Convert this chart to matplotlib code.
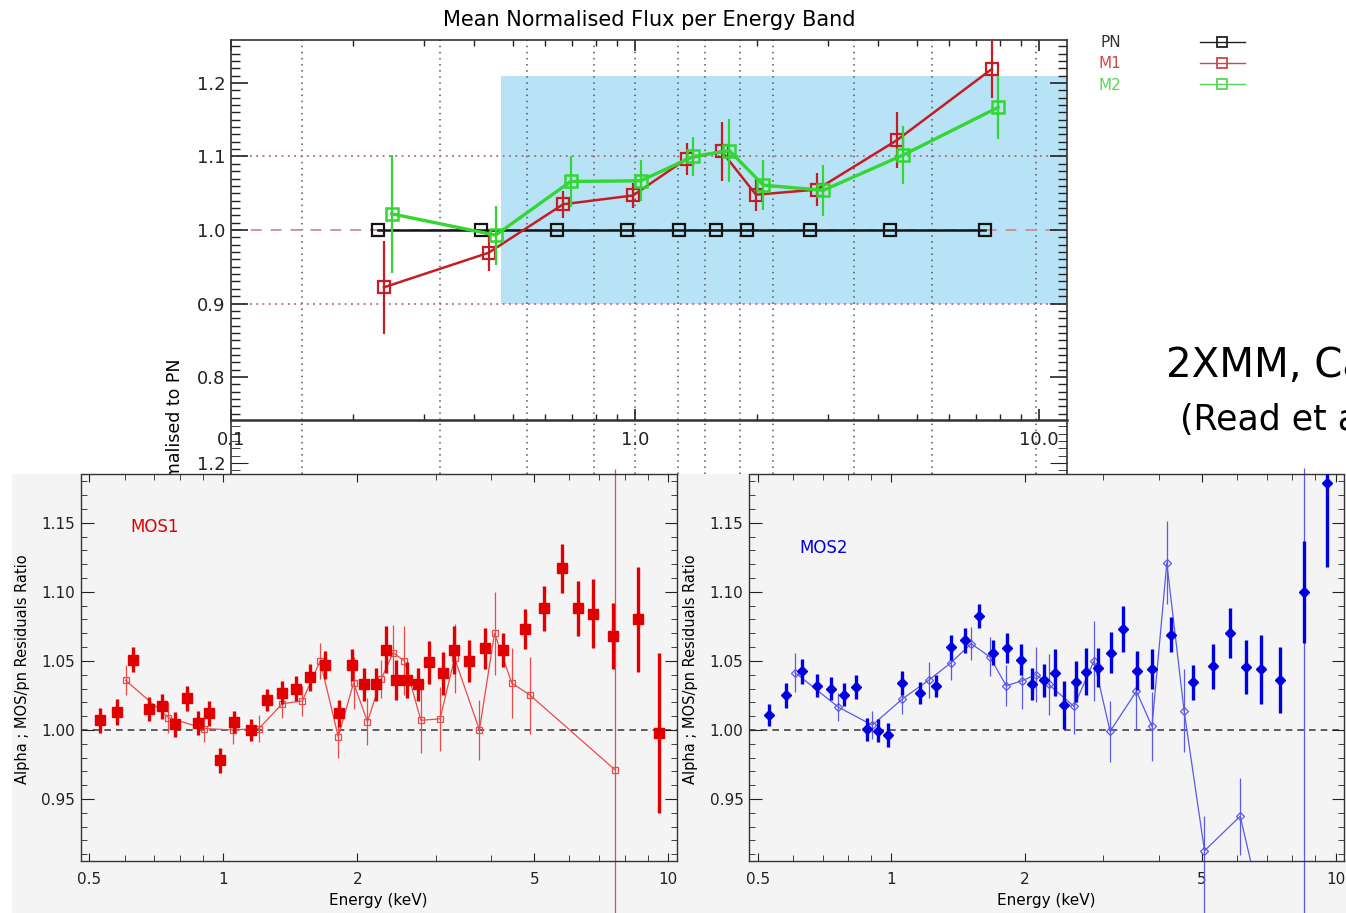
import numpy as np
import matplotlib
matplotlib.use('Agg')
import matplotlib.pyplot as plt
from matplotlib.lines import Line2D
from matplotlib.patches import Rectangle
from matplotlib.ticker import (FixedLocator, FixedFormatter, MultipleLocator,
                               NullFormatter, FormatStrFormatter)

# ---- top panel: mean normalised flux per band ----
band_edges = [0.15, 0.33, 0.54, 0.79, 1.0, 1.28, 1.49, 1.82, 2.2, 3.48, 5.42, 9.85]
shade_band = (0.466, 0.90, 1.21)   # E start, y low, y high

pn_e = [0.231, 0.416, 0.640, 0.954, 1.287, 1.584, 1.897, 2.712, 4.277, 7.35]
pn_v = [1.0, 1.0, 1.0, 1.0, 1.0, 1.0, 1.0, 1.0, 1.0, 1.0]

m1_e = [0.239, 0.434, 0.664, 0.989, 1.343, 1.639, 1.993, 2.818, 4.444, 7.64]
m1_v = [0.922, 0.969, 1.035, 1.047, 1.097, 1.107, 1.048, 1.055, 1.122, 1.219]
m1_err = [0.063, 0.025, 0.018, 0.017, 0.022, 0.040, 0.022, 0.022, 0.038, 0.040]

m2_e = [0.250, 0.452, 0.693, 1.033, 1.394, 1.712, 2.078, 2.924, 4.61, 7.93]
m2_v = [1.022, 0.993, 1.066, 1.067, 1.100, 1.108, 1.061, 1.054, 1.102, 1.167]
m2_err = [0.080, 0.040, 0.035, 0.028, 0.027, 0.043, 0.034, 0.035, 0.039, 0.043]

top_xticks = [0.1, 1.0, 10.0]
top_xlabels = ['0.1', '1.0', '10.0']
log_minor = [m * 10.0 ** k for k in (-2, -1, 0, 1) for m in range(2, 10)]

# ---- bottom panels: residual ratios ----
res_xticks = [0.5, 1, 2, 5, 10]
res_xlabels = ['0.5', '1', '2', '5', '10']

mos1_fe = [0.527, 0.577, 0.627, 0.679, 0.729, 0.778, 0.828, 0.878, 0.929, 0.982,
           1.055, 1.152, 1.252, 1.357, 1.459, 1.567, 1.691, 1.822, 1.95, 2.075,
           2.20, 2.32, 2.44, 2.593, 2.735, 2.907, 3.11, 3.304, 3.558, 3.866,
           4.26, 4.765, 5.26, 5.77, 6.27, 6.78, 7.52, 8.55, 9.54]
mos1_fv = [1.007, 1.013, 1.051, 1.015, 1.017, 1.004, 1.023, 1.005, 1.012, 0.978,
           1.006, 1.000, 1.022, 1.027, 1.030, 1.038, 1.047, 1.012, 1.047, 1.033,
           1.033, 1.058, 1.036, 1.036, 1.033, 1.049, 1.041, 1.058, 1.050, 1.059,
           1.058, 1.073, 1.088, 1.117, 1.088, 1.084, 1.068, 1.080, 0.998]
mos1_ferr = [0.009, 0.0095, 0.009, 0.0085, 0.009, 0.009, 0.009, 0.009, 0.009, 0.009,
             0.008, 0.008, 0.008, 0.0085, 0.009, 0.0095, 0.010, 0.010, 0.0115, 0.012,
             0.012, 0.017, 0.0145, 0.013, 0.012, 0.0155, 0.0155, 0.0175, 0.0155, 0.015,
             0.0125, 0.0145, 0.016, 0.018, 0.020, 0.025, 0.024, 0.038, 0.058]

mos1_oe = [0.603, 0.752, 0.904, 1.053, 1.202, 1.357, 1.505, 1.651, 1.813, 1.962,
           2.109, 2.266, 2.407, 2.552, 2.78, 3.07, 3.31, 3.764, 4.07, 4.45, 4.9, 7.6]
mos1_ov = [1.036, 1.009, 1.001, 1.000, 1.001, 1.019, 1.021, 1.050, 0.995, 1.034,
           1.006, 1.037, 1.056, 1.050, 1.007, 1.008, 1.052, 1.000, 1.070, 1.034,
           1.025, 0.971]
mos1_olo = [0.011, 0.011, 0.010, 0.010, 0.010, 0.010, 0.011, 0.013, 0.0155, 0.019,
            0.017, 0.014, 0.020, 0.025, 0.024, 0.023, 0.025, 0.022, 0.030, 0.025,
            0.028, 0.200]
mos1_ohi = [0.011, 0.011, 0.010, 0.010, 0.010, 0.010, 0.011, 0.013, 0.0155, 0.019,
            0.017, 0.014, 0.020, 0.025, 0.024, 0.023, 0.025, 0.022, 0.030, 0.025,
            0.028, 0.218]
mos1_ofree = [21]   # error bars not clipped to the frame

mos2_fe = [0.529, 0.580, 0.630, 0.681, 0.731, 0.782, 0.834, 0.883, 0.932, 0.985,
           1.056, 1.158, 1.26, 1.36, 1.462, 1.576, 1.698, 1.822, 1.955, 2.078,
           2.206, 2.33, 2.451, 2.60, 2.748, 2.922, 3.12, 3.318, 3.568, 3.87,
           4.265, 4.788, 5.288, 5.775, 6.277, 6.81, 7.5, 8.48, 9.57]
mos2_fv = [1.011, 1.025, 1.0425, 1.032, 1.030, 1.0255, 1.031, 1.0005, 0.9995, 0.9965,
           1.034, 1.027, 1.032, 1.060, 1.065, 1.0825, 1.056, 1.0595, 1.051, 1.0335,
           1.036, 1.0415, 1.018, 1.035, 1.042, 1.045, 1.056, 1.073, 1.043, 1.044,
           1.069, 1.0345, 1.046, 1.070, 1.0455, 1.044, 1.036, 1.100, 1.179]
mos2_ferr = [0.008, 0.009, 0.009, 0.0085, 0.0085, 0.0085, 0.0086, 0.0085, 0.0085, 0.0085,
             0.009, 0.008, 0.008, 0.009, 0.009, 0.009, 0.009, 0.011, 0.0115, 0.0115,
             0.012, 0.017, 0.0175, 0.015, 0.017, 0.014, 0.015, 0.0165, 0.014, 0.0145,
             0.0125, 0.0127, 0.016, 0.018, 0.0195, 0.025, 0.024, 0.037, 0.061]

mos2_oe = [0.607, 0.760, 0.906, 1.059, 1.213, 1.36, 1.512, 1.665, 1.814, 1.967,
           2.116, 2.26, 2.578, 2.858, 3.108, 3.562, 3.862, 4.17, 4.56, 5.07, 6.10, 8.49]
mos2_ov = [1.0415, 1.0165, 1.0035, 1.0225, 1.036, 1.0485, 1.0625, 1.053, 1.032, 1.0355,
           1.040, 1.033, 1.017, 1.050, 0.999, 1.028, 1.0025, 1.121, 1.014, 0.9125,
           0.9375, 0.74]
mos2_olo = [0.014, 0.010, 0.010, 0.011, 0.013, 0.012, 0.012, 0.014, 0.015, 0.020,
            0.020, 0.022, 0.020, 0.029, 0.022, 0.028, 0.025, 0.030, 0.030, 0.160,
            0.028, 0.300]
mos2_ohi = [0.014, 0.010, 0.010, 0.011, 0.013, 0.012, 0.012, 0.014, 0.015, 0.020,
            0.020, 0.022, 0.020, 0.029, 0.022, 0.028, 0.025, 0.030, 0.030, 0.025,
            0.028, 0.450]
mos2_ofree = [19, 21]

W, H = 1346, 913
fig = plt.figure(figsize=(W / 100, H / 100), dpi=100)


def px_axes(l, t, r, b, **kw):
    return fig.add_axes([l / W, 1 - b / H, (r - l) / W, (b - t) / H], **kw)


# ================= top panel =================
ax = px_axes(231, 40, 1067, 420)
ax.set_xscale('log')
ax.set_xlim(0.1, 11.73)
ax.set_ylim(0.7415, 1.2585)

ax.fill_between([shade_band[0], 11.73], shade_band[1], shade_band[2],
                color='#b8e3f6', lw=0, zorder=0.5)
for e in band_edges:
    ax.axvline(e, color='#555555', ls=(0, (1, 3)), lw=1.1, zorder=1)
ax.axhline(1.0, color='#cc8c8c', ls=(0, (6, 5)), lw=1.3, zorder=1)
for y in (0.9, 1.1):
    ax.axhline(y, color='#b06878', ls=(0, (1, 2.5)), lw=1.3, zorder=1)

ax.plot(pn_e, pn_v, color='#141414', lw=1.8, marker='s', ms=8, mfc='none',
        mew=1.6, zorder=3)
ax.errorbar(m1_e, m1_v, yerr=m1_err, fmt='none', ecolor='#c41e24', elinewidth=1.6,
            capsize=0, zorder=4)
ax.plot(m1_e, m1_v, color='#c41e24', lw=1.8, marker='s', ms=8.5, mfc='none',
        mew=1.6, zorder=4)
ax.errorbar(m2_e, m2_v, yerr=m2_err, fmt='none', ecolor='#33d633', elinewidth=1.6,
            capsize=0, zorder=5)
ax.plot(m2_e, m2_v, color='#33d633', lw=2.4, marker='s', ms=9, mfc='none',
        mew=1.8, zorder=5)

ax.xaxis.set_major_locator(FixedLocator(top_xticks))
ax.xaxis.set_major_formatter(FixedFormatter(top_xlabels))
ax.xaxis.set_minor_locator(FixedLocator(log_minor))
ax.xaxis.set_minor_formatter(NullFormatter())
ax.yaxis.set_major_locator(MultipleLocator(0.1))
ax.yaxis.set_minor_locator(MultipleLocator(0.01))
ax.yaxis.set_major_formatter(FormatStrFormatter('%.1f'))
ax.tick_params(which='both', direction='in', top=True, right=True, colors='#222222',
               labelsize=13)
ax.tick_params(axis='y', which='major', length=12, width=1.2, pad=4)
ax.tick_params(axis='y', which='minor', length=6.5, width=1)
ax.tick_params(axis='x', which='major', length=8, width=1.2, pad=8)
ax.tick_params(axis='x', which='minor', length=4, width=1)
for s in ax.spines.values():
    s.set_linewidth(1.2)
    s.set_color('#333333')
ax.spines['bottom'].set_linewidth(1.8)

# continuation of the frame below the axis line
stub = px_axes(231, 420, 1067, 474)
stub.patch.set_visible(False)
stub.set_xscale('log')
stub.set_xlim(0.1, 11.73)
stub.set_ylim(1.185, 1.2585)
for e in band_edges:
    stub.axvline(e, color='#555555', ls=(0, (1, 3)), lw=1.1)
stub.spines['top'].set_visible(False)
stub.spines['bottom'].set_visible(False)
for k in ('left', 'right'):
    stub.spines[k].set_linewidth(1.2)
    stub.spines[k].set_color('#333333')
stub.xaxis.set_major_locator(FixedLocator([]))
stub.xaxis.set_minor_locator(FixedLocator([]))
stub.yaxis.set_major_locator(MultipleLocator(0.1))
stub.yaxis.set_minor_locator(MultipleLocator(0.01))
stub.yaxis.set_major_formatter(FormatStrFormatter('%.1f'))
stub.tick_params(which='both', direction='in', right=True, colors='#222222', labelsize=13)
stub.tick_params(axis='y', which='major', length=12, pad=4)
stub.tick_params(axis='y', which='minor', length=6.5)

fig.text(649 / W, 1 - 20 / H, 'Mean Normalised Flux per Energy Band',
         ha='center', va='center', fontsize=15)
fig.text(175 / W, 1 - 358 / H, 'Normalised to PN', rotation=90,
         ha='center', va='top', fontsize=12.5, zorder=0.5)

handles = [Line2D([], [], color='#222222', lw=1, marker='s', ms=7.5, mfc='none', mew=1.3),
           Line2D([], [], color='#c84a4a', lw=1, marker='s', ms=7.5, mfc='none', mew=1.3),
           Line2D([], [], color='#55d855', lw=1, marker='s', ms=7.5, mfc='none', mew=1.3)]
fig.legend(handles, ['PN', 'M1', 'M2'], loc='upper left',
           bbox_to_anchor=(1098 / W, 1 - 35 / H), frameon=False, markerfirst=False,
           handlelength=2.9, handletextpad=5.2, borderpad=0, borderaxespad=0,
           labelspacing=0.42, fontsize=11,
           labelcolor=['#333333', '#d04848', '#55d855'])

fig.text(1166 / W, 1 - 377 / H, '2XMM, Cal', fontsize=29, va='baseline')
fig.text(1180 / W, 1 - 430 / H, '(Read et al.)', fontsize=25, va='baseline')

# ================= bottom panels =================
fig.add_artist(Rectangle((12 / W, 0), (W - 12) / W, (H - 474) / H,
                         transform=fig.transFigure, facecolor='#f4f4f4',
                         edgecolor='none', zorder=0.8))


def residual_panel(ax, fe, fv, ferr, oe, ov, olo, ohi, ofree,
                   cf, co, mf, msf, mo, mso, name, name_xy):
    ax.set_facecolor('#f4f4f4')
    ax.set_xscale('log')
    ax.set_xlim(0.478, 10.45)
    ax.set_ylim(0.9053, 1.185)
    ax.axhline(1.0, color='#444444', ls=(0, (4, 3)), lw=1.2, zorder=1)

    keep = [i for i in range(len(oe)) if i not in ofree]
    ax.errorbar([oe[i] for i in keep], [ov[i] for i in keep],
                yerr=[[olo[i] for i in keep], [ohi[i] for i in keep]],
                fmt='none', ecolor=co, elinewidth=0.9, capsize=0, zorder=2)
    for i in ofree:
        eb = ax.errorbar([oe[i]], [ov[i]], yerr=[[olo[i]], [ohi[i]]], fmt='none',
                         ecolor=co, elinewidth=0.9, capsize=0, zorder=2)
        for art in eb.lines[2]:
            art.set_clip_on(False)
    ax.plot(oe, ov, color=co, lw=0.9, marker=mo, ms=mso, mfc='none', mew=0.9,
            zorder=3)

    ax.errorbar(fe, fv, yerr=ferr, fmt='none', ecolor=cf, elinewidth=2.4,
                capsize=0, zorder=4)
    ax.plot(fe, fv, ls='none', marker=mf, ms=msf, color=cf, mec=cf, zorder=5)

    ax.text(name_xy[0], name_xy[1], name, transform=ax.transAxes, color=cf,
            fontsize=12, va='center', ha='left')

    ax.xaxis.set_major_locator(FixedLocator(res_xticks))
    ax.xaxis.set_major_formatter(FixedFormatter(res_xlabels))
    ax.xaxis.set_minor_locator(FixedLocator(log_minor))
    ax.xaxis.set_minor_formatter(NullFormatter())
    ax.yaxis.set_major_locator(MultipleLocator(0.05))
    ax.yaxis.set_minor_locator(MultipleLocator(0.01))
    ax.yaxis.set_major_formatter(FormatStrFormatter('%.2f'))
    ax.tick_params(which='both', direction='in', top=True, right=True,
                   colors='#222222', labelsize=11)
    ax.tick_params(axis='y', which='major', length=9, pad=4)
    ax.tick_params(axis='y', which='minor', length=4.5)
    ax.tick_params(axis='x', which='major', length=6, pad=8)
    ax.tick_params(axis='x', which='minor', length=4)
    for s in ax.spines.values():
        s.set_linewidth(1)
        s.set_color('#333333')
    ax.set_xlabel('Energy (keV)', fontsize=11)
    ax.xaxis.set_label_coords(0.5, -0.084)
    ax.set_ylabel('Alpha ; MOS/pn Residuals Ratio', fontsize=10.5)
    ax.yaxis.set_label_coords(-0.085, 0.497)


axL = px_axes(80.7, 474.5, 676.7, 860.7, zorder=1)
residual_panel(axL, mos1_fe, mos1_fv, mos1_ferr, mos1_oe, mos1_ov, mos1_olo, mos1_ohi,
               mos1_ofree, '#e00000', '#ea4a4a', 's', 6.5, 's', 4.8, 'MOS1',
               (0.083, 0.8645))

axR = px_axes(749, 474.5, 1344, 860.7, zorder=1)
residual_panel(axR, mos2_fe, mos2_fv, mos2_ferr, mos2_oe, mos2_ov, mos2_olo, mos2_ohi,
               mos2_ofree, '#0000e0', '#5a5ae6', 'D', 5.2, 'D', 3.6, 'MOS2',
               (0.084, 0.81))

fig.savefig('out.png', dpi=100)
